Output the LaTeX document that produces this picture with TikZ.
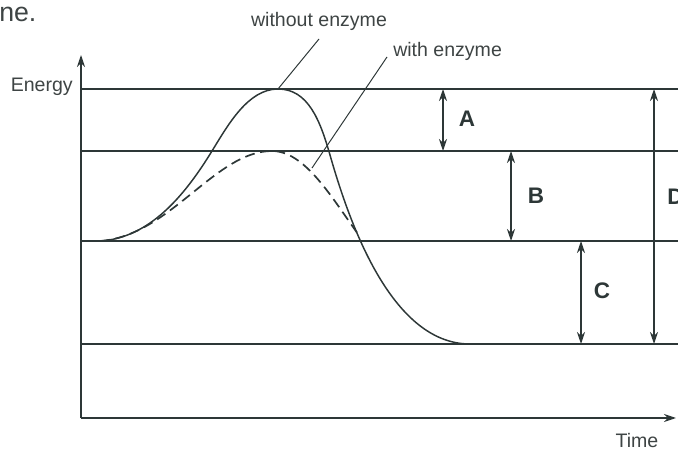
\documentclass[tikz,border=0pt]{standalone}
\usepackage{fontspec}
\setmainfont{Liberation Sans}
\usetikzlibrary{arrows.meta}
\definecolor{ink}{RGB}{45,55,55}
\definecolor{textgray}{RGB}{62,68,68}

\begin{document}
\begin{tikzpicture}[x=0.025cm, y=-0.025cm, >={Stealth[length=3mm, width=2mm]},
  ink/.style={draw=ink, line width=1.05pt},
  lbl/.style={text=textgray, font=\fontsize{13.9}{16}\selectfont, inner sep=0pt},
  gap/.style={text=ink, font=\fontsize{16}{18}\selectfont\bfseries, inner sep=0pt}]
\useasboundingbox (0,0) rectangle (678,451);
\clip (0,0) rectangle (678,451);
% axes
\coordinate (o) at (81,418); \coordinate (ytop) at (81,55); \coordinate (xend) at (676,418);
\draw[ink,->] (o) -- (ytop);
\draw[ink,->] (o) -- (xend);
\node[lbl, anchor=east] (energy) at (73,87) {Energy};
\node[lbl] (time) at (637,441) {Time};
\node[text=textgray, font=\fontsize{19}{22}\selectfont, inner sep=0pt, anchor=west] (frag) at (-1,14) {ne.};
% energy levels
\foreach \n/\y in {top/89, mid/151, react/241, prod/344} {
  \coordinate (\n L) at (81,\y); \coordinate (\n R) at (678,\y);
  \draw[ink] (\n L) -- (\n R);
}
% reaction curves
\draw[ink] (100,241) .. controls (150,238) and (185,195) .. (212,151)
  .. controls (228,125) and (248,89) .. (278,89)
  .. controls (308,89) and (320,120) .. (330,155)
  .. controls (348,218) and (390,344) .. (470,344);
\draw[ink, line width=1.2pt, dash pattern=on 7pt off 4pt] (100,241) .. controls (170,236) and (215,151) .. (272,151)
  .. controls (305,151) and (332,198) .. (358,234);
% leaders
\node[lbl] (without) at (319,21) {without enzyme};
\node[lbl, anchor=west] (with) at (393,51) {with enzyme};
\coordinate (peak) at (278,89); \coordinate (dpt) at (312,168);
\draw[ink, line width=0.7pt] (319,39) -- (peak);
\draw[ink, line width=0.7pt] (387,57) -- (dpt);
% energy differences
\foreach \n/\x/\ya/\yb in {A/443/89/151, B/511/151/241, C/581/241/344, D/654/89/344} {
  \coordinate (\n1) at (\x,\ya); \coordinate (\n2) at (\x,\yb);
  \draw[ink,<->] (\n1) -- (\n2);
}
\node[gap] (labA) at (467,119) {A};
\node[gap] (labB) at (536,196) {B};
\node[gap] (labC) at (602,291) {C};
\node[gap, anchor=west] (labD) at (667,197) {D};
\end{tikzpicture}
\end{document}
